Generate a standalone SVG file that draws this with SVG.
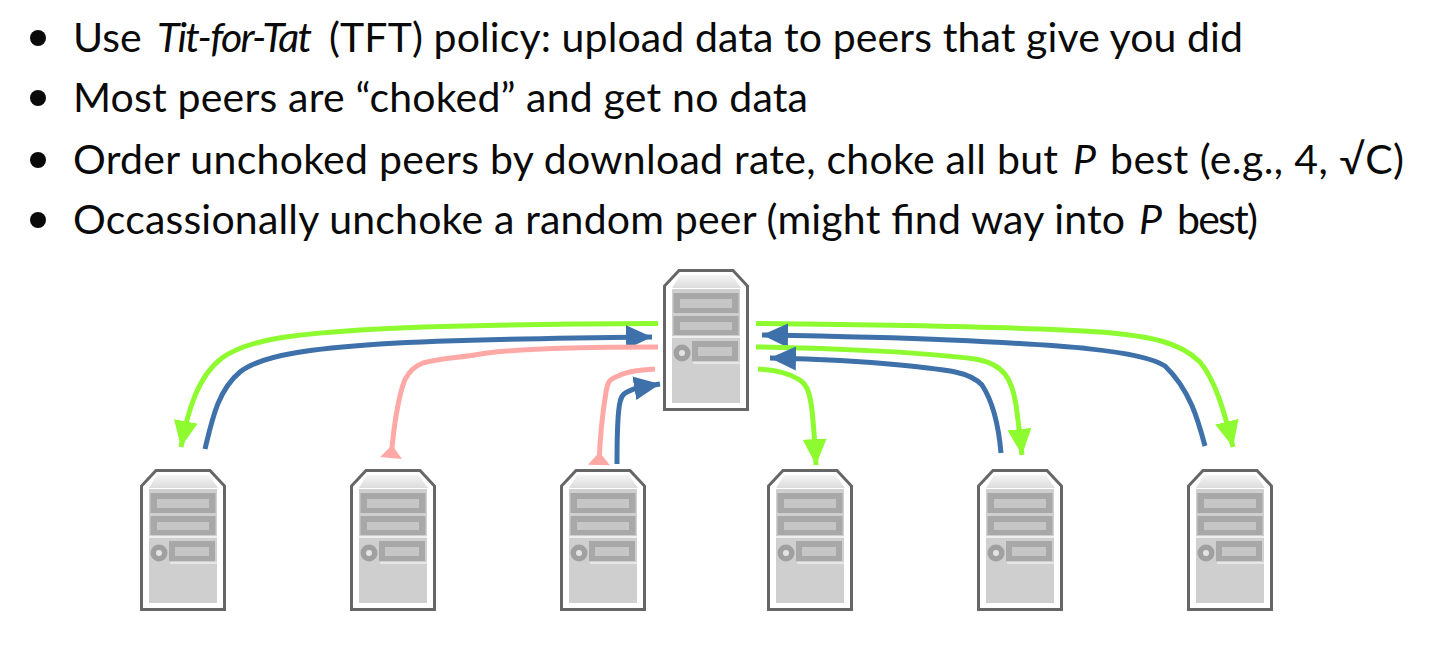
<svg xmlns="http://www.w3.org/2000/svg" xmlns:xlink="http://www.w3.org/1999/xlink" width="1432" height="652" viewBox="0 0 1432 652">
<style>
text{font-family:Lato,"Open Sans","Liberation Sans",sans-serif;font-size:41px;fill:#0a0a0a}
.i{font-style:italic}
.c{fill:none;stroke-width:5;stroke-linecap:butt;stroke-linejoin:round}
.g{stroke:#8dfb2f}.b{stroke:#3e70a9}.p{stroke:#ffa9a6}
</style>
<defs>
<marker id="ag" markerUnits="userSpaceOnUse" markerWidth="30" markerHeight="30" refX="26" refY="12" orient="auto"><path d="M0 0L26 12L0 24z" fill="#8dfb2f"/></marker>
<marker id="ab" markerUnits="userSpaceOnUse" markerWidth="30" markerHeight="30" refX="26" refY="12" orient="auto"><path d="M0 0L26 12L0 24z" fill="#3e70a9"/></marker>
<marker id="tp" markerUnits="userSpaceOnUse" markerWidth="16" markerHeight="26" refX="13" refY="12" orient="auto"><path d="M0 12L13 1L13 23z" fill="#ffa9a6"/></marker>
<linearGradient id="top" x1="0" y1="0" x2="0" y2="1"><stop offset="0" stop-color="#f4f4f4"/><stop offset="1" stop-color="#dcdcdc"/></linearGradient>
<g id="srv">
<path d="M16 1.5H70L84.5 17V140.500H1.500V17z" fill="#fff" stroke="#666" stroke-width="3"/>
<path d="M17 6H69L78 19H9z" fill="url(#top)"/>
<rect x="9" y="20" width="68" height="114" fill="#cfcfcf"/>
<rect x="10.500" y="24" width="65" height="20" fill="#a8a8a8"/><rect x="17" y="30" width="52" height="9" fill="#c6c6c6"/>
<rect x="10.500" y="47" width="65" height="19" fill="#a8a8a8"/><rect x="17" y="53" width="52" height="8" fill="#c6c6c6"/>
<path d="M9 68H77" stroke="#eee" stroke-width="2"/>
<rect x="29" y="72" width="46" height="20" fill="#a8a8a8"/><rect x="35" y="78" width="34" height="9" fill="#c6c6c6"/>
<path d="M30 94H77" stroke="#eee" stroke-width="1.500"/>
<circle cx="19" cy="84" r="8.500" fill="#a0a0a0"/><circle cx="19" cy="84" r="3" fill="#e4e4e4"/>
</g>
</defs>
<g id="bullets" fill="#0a0a0a"><circle cx="38" cy="38" r="8"/><circle cx="38" cy="98" r="8"/><circle cx="38" cy="160" r="8"/><circle cx="38" cy="220" r="8"/></g>
<g id="text">
<text y="52"><tspan x="73">Use </tspan><tspan x="157" class="i" textLength="155">Tit-for-Tat</tspan><tspan x="329" textLength="914">(TFT) policy: upload data to peers that give you did</tspan></text>
<text x="73" y="112" textLength="735">Most peers are “choked” and get no data</text>
<text y="174"><tspan x="73" textLength="985">Order unchoked peers by download rate, choke all but</tspan><tspan x="1073" class="i">P</tspan><tspan x="1110" textLength="294">best (e.g., 4, √C)</tspan></text>
<text y="234"><tspan x="73" textLength="1052">Occassionally unchoke a random peer (might find way into</tspan><tspan x="1139" class="i">P</tspan><tspan x="1177" textLength="81">best)</tspan></text>
</g>
<g id="connectors">
<path class="c g" marker-end="url(#ag)" d="M658 323.500C520 324 420 326 360 330C300 334 250 338 222 358C198 376 188 410 181 447"/>
<path class="c b" marker-end="url(#ab)" d="M205 449C212 420 218 390 240 372C262 354 320 348 380 344C450 340 560 338 652 337"/>
<path class="c p" marker-end="url(#tp)" d="M658 347C580 347 520 349 487 353C460 358 440 358 423 363C405 370 402 385 398 405C395 420 393 435 391 458"/>
<path class="c p" marker-end="url(#tp)" d="M655 369C640 370 628 371 618 376C608 380 608 382 606 392C603 410 600 435 599 465"/>
<path class="c b" marker-end="url(#ab)" d="M617 464C617 440 617 415 620 402C622 392 628 392 636 388L660 384"/>
<path class="c g" marker-end="url(#ag)" d="M756 323.500C900 325 1040 328 1100 332C1150 336 1180 342 1200 362C1215 380 1224 410 1233 447"/>
<path class="c b" marker-end="url(#ab)" d="M1205 446C1198 420 1190 390 1165 366C1140 350 1060 345 950 340C880 337 820 336 762 335"/>
<path class="c g" marker-end="url(#ag)" d="M756 347C840 348 930 353 975 359C1005 364 1012 380 1016 405C1018 420 1020 435 1022 455"/>
<path class="c b" marker-end="url(#ab)" d="M1001 453C999 430 995 405 982 385C970 372 950 370 900 365C860 361 820 359 770 358"/>
<path class="c g" marker-end="url(#ag)" d="M758 369C775 370 790 374 798 379C808 384 810 395 812 410C814 430 815 445 816 465"/>
</g>
<g id="server-top"><use href="#srv" x="663" y="269"/></g>
<g id="server-1"><use href="#srv" x="140" y="469"/></g>
<g id="server-2"><use href="#srv" x="350" y="469"/></g>
<g id="server-3"><use href="#srv" x="560" y="469"/></g>
<g id="server-4"><use href="#srv" x="767" y="469"/></g>
<g id="server-5"><use href="#srv" x="977" y="469"/></g>
<g id="server-6"><use href="#srv" x="1187" y="469"/></g>
</svg>
